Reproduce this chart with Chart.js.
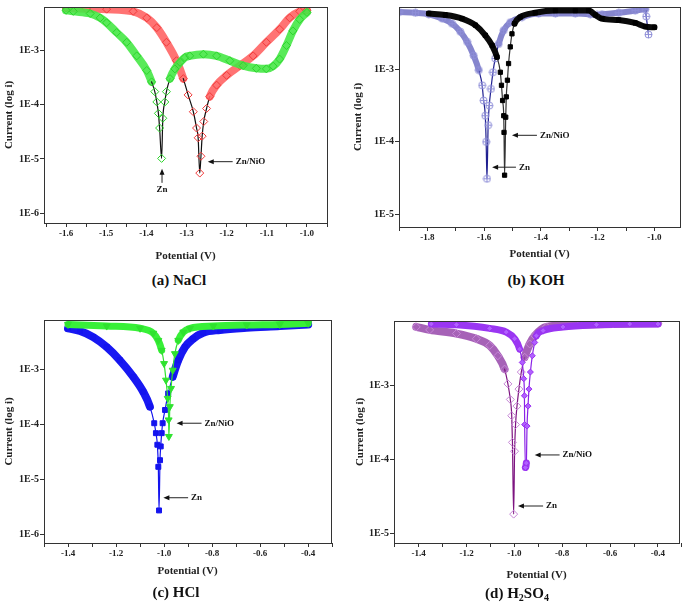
<!DOCTYPE html>
<html>
<head>
<meta charset="utf-8">
<script src="https://cdn.jsdelivr.net/npm/chart.js@4.4.1/dist/chart.umd.min.js"></script>
<style>
  body { margin: 0; background: #fff; width: 685px; height: 609px; position: relative; overflow: hidden; font-family: "Liberation Serif", serif; }
  .panel { position: absolute; }
  .cap { position: absolute; font-weight: bold; font-size: 15px; line-height: 17px; transform: translateX(-50%); white-space: nowrap; color: #111; }
  .cap sub { font-size: 10px; line-height: 0; vertical-align: -3px; }
</style>
</head>
<body>
<div class="panel" style="left:0;top:0;width:340px;height:268px"><canvas id="cA"></canvas></div>
<div class="panel" style="left:350px;top:0;width:335px;height:268px"><canvas id="cB"></canvas></div>
<div class="panel" style="left:0;top:305px;width:340px;height:280px"><canvas id="cC"></canvas></div>
<div class="panel" style="left:350px;top:305px;width:335px;height:280px"><canvas id="cD"></canvas></div>
<div class="cap" style="left:179px;top:272px">(a) NaCl</div>
<div class="cap" style="left:536px;top:272px">(b) KOH</div>
<div class="cap" style="left:176px;top:584px">(c) HCl</div>
<div class="cap" style="left:517px;top:585px">(d) H<sub>2</sub>SO<sub>4</sub></div>
<script>
// potentials (V) and log10 of current

// (a) NaCl
const znNaClE = [-1.60, -1.582, -1.54, -1.515, -1.499, -1.474, -1.449, -1.424, -1.399, -1.387, -1.379, -1.374, -1.370, -1.367, -1.362, -1.359, -1.354, -1.350, -1.341, -1.329, -1.316, -1.304, -1.292, -1.258, -1.225, -1.192, -1.159, -1.126, -1.101, -1.084, -1.068, -1.051, -1.035, -1.018, -1.0];
const znNaClLogI = [-2.26, -2.28, -2.32, -2.40, -2.49, -2.67, -2.85, -3.10, -3.37, -3.58, -3.76, -3.95, -4.16, -4.43, -4.99, -4.25, -3.95, -3.76, -3.52, -3.34, -3.22, -3.13, -3.10, -3.07, -3.10, -3.19, -3.28, -3.33, -3.34, -3.29, -3.16, -2.91, -2.64, -2.43, -2.30];
const niNaClE = [-1.60, -1.55, -1.499, -1.433, -1.399, -1.374, -1.350, -1.325, -1.308, -1.296, -1.283, -1.275, -1.271, -1.267, -1.264, -1.261, -1.257, -1.250, -1.242, -1.225, -1.200, -1.167, -1.134, -1.101, -1.068, -1.043, -1.018, -1.0];
const niNaClLogI = [-2.22, -2.23, -2.24, -2.28, -2.40, -2.58, -2.85, -3.19, -3.52, -3.82, -4.13, -4.43, -4.61, -5.26, -4.95, -4.58, -4.31, -4.07, -3.85, -3.64, -3.46, -3.28, -3.10, -2.85, -2.61, -2.40, -2.28, -2.26];

// (b) KOH
const znKohE = [-1.90, -1.842, -1.795, -1.748, -1.713, -1.684, -1.660, -1.637, -1.619, -1.607, -1.602, -1.596, -1.593, -1.590, -1.586, -1.582, -1.576, -1.569, -1.561, -1.549, -1.531, -1.508, -1.467, -1.408, -1.349, -1.279, -1.226, -1.202, -1.185, -1.126, -1.068, -1.032, -1.029, -1.021];
const znKohLogI = [-2.21, -2.22, -2.24, -2.30, -2.37, -2.48, -2.62, -2.81, -3.01, -3.22, -3.43, -3.64, -4.00, -4.51, -3.77, -3.50, -3.27, -3.04, -2.85, -2.65, -2.46, -2.35, -2.28, -2.23, -2.23, -2.23, -2.24, -2.25, -2.24, -2.22, -2.19, -2.17, -2.27, -2.52];
const niKohE = [-1.795, -1.737, -1.678, -1.631, -1.596, -1.572, -1.555, -1.543, -1.539, -1.535, -1.531, -1.530, -1.528, -1.524, -1.522, -1.518, -1.514, -1.508, -1.502, -1.493, -1.473, -1.42, -1.349, -1.279, -1.232, -1.208, -1.185, -1.126, -1.068, -1.032, -1.0];
const niKohLogI = [-2.23, -2.25, -2.30, -2.39, -2.53, -2.67, -2.83, -3.04, -3.22, -3.43, -3.64, -3.87, -4.46, -3.66, -3.38, -3.15, -2.92, -2.69, -2.51, -2.37, -2.28, -2.22, -2.19, -2.19, -2.19, -2.25, -2.30, -2.32, -2.36, -2.41, -2.42];

// (c) HCl
const znHclE = [-1.40, -1.350, -1.295, -1.239, -1.184, -1.128, -1.087, -1.059, -1.041, -1.034, -1.028, -1.024, -1.021, -1.017, -1.014, -1.010, -1.006, -0.996, -0.983, -0.964, -0.941, -0.913, -0.879, -0.837, -0.767, -0.656, -0.518, -0.40];
const znHclLogI = [-2.26, -2.31, -2.42, -2.60, -2.84, -3.14, -3.41, -3.68, -3.98, -4.16, -4.37, -4.77, -5.56, -4.65, -4.40, -4.16, -3.98, -3.74, -3.44, -3.14, -2.84, -2.60, -2.45, -2.34, -2.29, -2.25, -2.22, -2.19];
const niHclE = [-1.40, -1.239, -1.100, -1.045, -1.024, -1.010, -1.000, -0.992, -0.985, -0.981, -0.980, -0.976, -0.971, -0.964, -0.955, -0.941, -0.920, -0.892, -0.795, -0.656, -0.518, -0.40];
const niHclLogI = [-2.19, -2.22, -2.26, -2.35, -2.48, -2.66, -2.90, -3.20, -3.53, -3.92, -4.22, -3.68, -3.35, -3.02, -2.72, -2.48, -2.33, -2.26, -2.22, -2.20, -2.19, -2.17];

// (d) H2SO4
const znAcidE = [-1.41, -1.354, -1.242, -1.159, -1.103, -1.069, -1.041, -1.027, -1.017, -1.011, -1.008, -1.003, -0.999, -0.995, -0.989, -0.981, -0.971, -0.957, -0.936, -0.915, -0.866, -0.727, -0.588, -0.40];
const znAcidLogI = [-2.21, -2.25, -2.30, -2.37, -2.46, -2.60, -2.78, -2.98, -3.19, -3.41, -3.77, -4.74, -3.89, -3.53, -3.28, -3.05, -2.82, -2.62, -2.44, -2.33, -2.21, -2.18, -2.17, -2.16];
const niAcidE = [-1.347, -1.242, -1.103, -1.034, -0.999, -0.978, -0.967, -0.961, -0.958, -0.957, -0.954, -0.950, -0.947, -0.943, -0.939, -0.933, -0.925, -0.915, -0.908, -0.880, -0.797, -0.657, -0.518, -0.40];
const niAcidLogI = [-2.17, -2.18, -2.23, -2.28, -2.37, -2.51, -2.69, -2.91, -3.14, -3.53, -4.11, -4.05, -3.55, -3.28, -3.05, -2.82, -2.60, -2.42, -2.33, -2.26, -2.21, -2.18, -2.17, -2.17];

// tick values
const xTicksNaCl = [-1.65, -1.6, -1.55, -1.5, -1.45, -1.4, -1.35, -1.3, -1.25, -1.2, -1.15, -1.1, -1.05, -1.0, -0.95];
const xLabelsNaCl = [-1.6, -1.5, -1.4, -1.3, -1.2, -1.1, -1.0];
const xTicksKoh = [-1.9, -1.8, -1.7, -1.6, -1.5, -1.4, -1.3, -1.2, -1.1, -1.0];
const xLabelsKoh = [-1.8, -1.6, -1.4, -1.2, -1.0];
const xTicksAcid = [-1.5, -1.4, -1.3, -1.2, -1.1, -1.0, -0.9, -0.8, -0.7, -0.6, -0.5, -0.4, -0.3];
const xLabelsAcid = [-1.4, -1.2, -1.0, -0.8, -0.6, -0.4];
const yTicks6 = [-6, -5, -4, -3];
const yTicks5 = [-5, -4, -3];

function crossCircle(col) {
  const c = document.createElement('canvas');
  c.width = c.height = 9;
  const g = c.getContext('2d');
  g.strokeStyle = col; g.lineWidth = 1;
  g.beginPath(); g.arc(4.5, 4.5, 3.5, 0, Math.PI * 2);
  g.moveTo(4.5, 1); g.lineTo(4.5, 8); g.moveTo(1, 4.5); g.lineTo(8, 4.5);
  g.stroke();
  return c;
}

// where the points run steeply (the dip) the markers stand apart on a thin line,
// elsewhere they overlap into a thick band
function steep(c) {
  const dx = Math.abs(c.p1.x - c.p0.x), dy = Math.abs(c.p1.y - c.p0.y);
  return dy > 6 && dy > 3 * dx;
}

const boxAndNotes = {
  id: 'boxAndNotes',
  afterDatasetsDraw(chart, args, opts) {
    const { ctx, chartArea: a, scales: { x, y } } = chart;
    ctx.save();
    ctx.strokeStyle = '#333';
    ctx.lineWidth = 1;
    ctx.strokeRect(Math.round(a.left) + 0.5, Math.round(a.top) + 0.5, Math.round(a.width), Math.round(a.height));
    ctx.fillStyle = '#111';
    ctx.strokeStyle = '#222';
    ctx.font = 'bold 9px "Liberation Serif"';
    ctx.textBaseline = 'middle';
    (opts.notes || []).forEach(n => {
      if (n.vertical) {
        const px = x.getPixelForValue(n.x), y0 = y.getPixelForValue(n.tail), y1 = y.getPixelForValue(n.tip);
        ctx.beginPath(); ctx.moveTo(px, y0); ctx.lineTo(px, y1 + 4); ctx.stroke();
        ctx.beginPath(); ctx.moveTo(px, y1); ctx.lineTo(px - 2.5, y1 + 6); ctx.lineTo(px + 2.5, y1 + 6); ctx.closePath(); ctx.fill();
        ctx.textAlign = 'center';
        ctx.fillText(n.label, px, y.getPixelForValue(n.textY));
      } else {
        const py = y.getPixelForValue(n.y), x0 = x.getPixelForValue(n.tail), x1 = x.getPixelForValue(n.tip);
        ctx.beginPath(); ctx.moveTo(x0, py); ctx.lineTo(x1 + 4, py); ctx.stroke();
        ctx.beginPath(); ctx.moveTo(x1, py); ctx.lineTo(x1 + 6, py - 2.5); ctx.lineTo(x1 + 6, py + 2.5); ctx.closePath(); ctx.fill();
        ctx.textAlign = 'left';
        ctx.fillText(n.label, x0 + 3, py);
      }
    });
    ctx.restore();
  }
};

function tafel(id, p) {
  const datasets = p.series.map(s => ({
    data: s.E.map((e, i) => ({ x: e, y: s.logI[i] })),
    showLine: true,
    cubicInterpolationMode: 'monotone',
    borderColor: s.line,
    borderWidth: 1,
    borderCapStyle: 'round',
    borderJoinStyle: 'round',
    segment: {
      borderWidth: c => steep(c) ? 1.2 : s.band,
      borderColor: c => steep(c) ? s.line : s.bandColor
    },
    pointStyle: s.marker,
    rotation: s.rotation || 0,
    pointRadius: s.r,
    pointBorderColor: s.mk,
    pointBackgroundColor: s.fill,
    pointBorderWidth: 1,
    order: s.order
  }));
  const tickFont = { family: '"Liberation Serif"', weight: 'bold' };
  const titleFont = { family: '"Liberation Serif"', weight: 'bold', size: 11 };
  return new Chart(document.getElementById(id), {
    type: 'scatter',
    data: { datasets },
    options: {
      responsive: true,
      maintainAspectRatio: false,
      animation: false,
      layout: { padding: { top: p.top, right: p.w - p.right, left: 0, bottom: 0 } },
      plugins: { legend: { display: false }, tooltip: { enabled: false }, boxAndNotes: { notes: p.notes } },
      scales: {
        x: {
          type: 'linear', min: p.xMin, max: p.xMax,
          border: { display: false },
          grid: { drawOnChartArea: false, tickLength: 4, color: '#333' },
          afterBuildTicks: s => { s.ticks = p.xTicks.map(v => ({ value: v })); },
          afterFit: s => { s.height = p.h - p.bottom; },
          ticks: {
            padding: 1, color: '#222', font: { ...tickFont, size: 9 }, maxRotation: 0, autoSkip: false,
            callback: v => p.xLabels.some(l => Math.abs(l - v) < 1e-6) ? v.toFixed(1) : ''
          },
          title: { display: true, text: 'Potential (V)', color: '#222', font: titleFont, padding: { top: 0, bottom: p.xTitlePad } }
        },
        y: {
          type: 'linear', min: p.yMin, max: p.yMax,
          border: { display: false },
          grid: { drawOnChartArea: false, tickLength: 4, color: '#333' },
          afterBuildTicks: s => { s.ticks = p.yTicks.map(v => ({ value: v })); },
          afterFit: s => { s.width = p.left; },
          ticks: { padding: 1, color: '#222', font: { ...tickFont, size: 10 }, callback: v => '1E' + v },
          title: { display: true, text: 'Current (log i)', color: '#222', font: titleFont, padding: { top: p.yTitlePad, bottom: 0 } }
        }
      }
    },
    plugins: [boxAndNotes]
  });
}

tafel('cA', {
  w: 340, h: 268, left: 44, right: 327, top: 4, bottom: 223, xTitlePad: 5.7, yTitlePad: 2.4,
  xMin: -1.655, xMax: -0.95, yMin: -6.18, yMax: -2.2,
  xTicks: xTicksNaCl, xLabels: xLabelsNaCl, yTicks: yTicks6,
  series: [
    { E: niNaClE, logI: niNaClLogI, line: '#111', band: 8, bandColor: 'rgba(255,100,100,0.9)', marker: 'rectRot', r: 4, mk: '#f03a3a', fill: 'rgba(255,255,255,0)', order: 2 },
    { E: znNaClE, logI: znNaClLogI, line: '#111', band: 8, bandColor: 'rgba(70,232,70,0.9)', marker: 'rectRot', r: 4, mk: '#2bd42b', fill: 'rgba(255,255,255,0)', order: 1 }
  ],
  notes: [
    { label: 'Zn/NiO', y: -5.05, tail: -1.185, tip: -1.247 },
    { label: 'Zn', vertical: true, x: -1.361, tail: -5.44, tip: -5.18, textY: -5.57 }
  ]
});

tafel('cB', {
  w: 335, h: 268, left: 49, right: 330, top: 7, bottom: 227, xTitlePad: 7.4, yTitlePad: 1.4,
  xMin: -1.9, xMax: -0.91, yMin: -5.175, yMax: -2.14,
  xTicks: xTicksKoh, xLabels: xLabelsKoh, yTicks: yTicks5,
  series: [
    { E: znKohE, logI: znKohLogI, line: '#1f1f90', band: 6, bandColor: 'rgba(120,120,200,0.9)', marker: crossCircle('#8f8fd8'), r: 4, mk: '#8f8fd8', fill: 'rgba(255,255,255,0)', order: 2 },
    { E: niKohE, logI: niKohLogI, line: '#333', band: 6, bandColor: '#0a0a0a', marker: 'rect', r: 3, mk: '#000', fill: '#000', order: 1 }
  ],
  notes: [
    { label: 'Zn/NiO', y: -3.91, tail: -1.414, tip: -1.502 },
    { label: 'Zn', y: -4.35, tail: -1.488, tip: -1.572 }
  ]
});

tafel('cC', {
  w: 340, h: 280, left: 44, right: 331, top: 15, bottom: 238, xTitlePad: 7.7, yTitlePad: 2.4,
  xMin: -1.5, xMax: -0.305, yMin: -6.15, yMax: -2.11,
  xTicks: xTicksAcid, xLabels: xLabelsAcid, yTicks: yTicks6,
  series: [
    { E: znHclE, logI: znHclLogI, line: '#1414ee', band: 8, bandColor: '#1818f2', marker: 'rect', r: 3.5, mk: '#1414ee', fill: '#1414ee', order: 2 },
    { E: niHclE, logI: niHclLogI, line: '#2fe22f', band: 7, bandColor: '#38f038', marker: 'triangle', rotation: 180, r: 4, mk: '#2fe22f', fill: '#2fe22f', order: 1 }
  ],
  notes: [
    { label: 'Zn/NiO', y: -3.98, tail: -0.844, tip: -0.948 },
    { label: 'Zn', y: -5.33, tail: -0.90, tip: -1.003 }
  ]
});

tafel('cD', {
  w: 335, h: 280, left: 44, right: 329, top: 16, bottom: 238, xTitlePad: 3.4, yTitlePad: 3.4,
  xMin: -1.503, xMax: -0.312, yMin: -5.13, yMax: -2.13,
  xTicks: xTicksAcid, xLabels: xLabelsAcid, yTicks: yTicks5,
  series: [
    { E: znAcidE, logI: znAcidLogI, line: '#7d1480', band: 8, bandColor: 'rgba(150,70,170,0.85)', marker: 'rectRot', r: 4, mk: '#c686d6', fill: 'rgba(255,255,255,0)', order: 2 },
    { E: niAcidE, logI: niAcidLogI, line: '#8a22e6', band: 7, bandColor: '#9a36f2', marker: 'rectRot', r: 3, mk: '#9a2ff0', fill: '#b060ff', order: 1 }
  ],
  notes: [
    { label: 'Zn/NiO', y: -3.94, tail: -0.811, tip: -0.915 },
    { label: 'Zn', y: -4.63, tail: -0.88, tip: -0.985 }
  ]
});
</script>
</body>
</html>
